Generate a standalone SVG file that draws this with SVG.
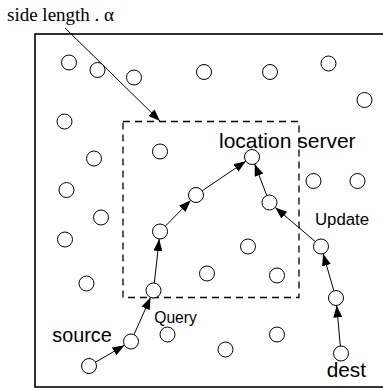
<svg xmlns="http://www.w3.org/2000/svg" width="383" height="391" viewBox="0 0 383 391">
  <style>
    .frame { fill: none; stroke: #000; stroke-width: 1.6; }
    .region { fill: none; stroke: #000; stroke-width: 1.3; stroke-dasharray: 7 5; }
    .node circle { fill: #fff; stroke: #000; stroke-width: 1; }
    .edge { stroke: #000; stroke-width: 1; fill: none; marker-end: url(#head); }
    .sans { font-family: "Liberation Sans", Arial, sans-serif; fill: #000; }
    .serif { font-family: "Liberation Serif", "Times New Roman", serif; fill: #000; }
  </style>
  <defs>
    <marker id="head" markerUnits="userSpaceOnUse" markerWidth="13" markerHeight="9" refX="12" refY="4.5" orient="auto">
      <path d="M0,0 L12,4.5 L0,9 Z" fill="#000"/>
    </marker>
  </defs>

  <!-- area and query region -->
  <rect class="frame" x="35" y="34" width="360" height="353"/>
  <rect class="region" x="123" y="121.5" width="176" height="176"/>

  <!-- labels -->
  <text class="serif" x="7" y="20.5" font-size="19">side length . α</text>
  <text class="sans" x="219" y="147.5" font-size="21">location server</text>
  <text class="sans" x="315" y="224.5" font-size="16.8">Update</text>
  <text class="sans" x="154.3" y="323" font-size="15.6">Query</text>
  <text class="sans" x="52.3" y="341.5" font-size="19.8">source</text>
  <text class="sans" x="326.7" y="377" font-size="20.8">dest</text>

  <!-- connectors -->
  <g id="connectors">
    <line class="edge" x1="65" y1="28" x2="160" y2="121"/>
    <line class="edge" x1="95.5" y1="362.2" x2="124.5" y2="345.3"/>
    <line class="edge" x1="134" y1="334.6" x2="150.5" y2="297.4"/>
    <line class="edge" x1="154.3" y1="283.1" x2="159.2" y2="239"/>
    <line class="edge" x1="165.3" y1="226.2" x2="190.7" y2="200.3"/>
    <line class="edge" x1="202.2" y1="190.8" x2="245.8" y2="161.2"/>
    <line class="edge" x1="340.3" y1="346" x2="336.7" y2="305.5"/>
    <line class="edge" x1="333.9" y1="290.8" x2="323.1" y2="253.7"/>
    <line class="edge" x1="315.3" y1="241.6" x2="275.2" y2="207.4"/>
    <line class="edge" x1="266.8" y1="195.5" x2="254.7" y2="164"/>
  </g>

  <!-- path nodes -->
  <g id="n-source" class="node"><circle cx="89" cy="366" r="7.5"/></g>
  <g id="n-s1" class="node"><circle cx="131" cy="341.5" r="7.5"/></g>
  <g id="n-s2" class="node"><circle cx="153.5" cy="290.5" r="7.5"/></g>
  <g id="n-s3" class="node"><circle cx="160" cy="231.5" r="7.5"/></g>
  <g id="n-s4" class="node"><circle cx="196" cy="195" r="7.5"/></g>
  <g id="n-server" class="node"><circle cx="252" cy="157" r="7.5"/></g>
  <g id="n-dest" class="node"><circle cx="341" cy="353.5" r="7.5"/></g>
  <g id="n-d1" class="node"><circle cx="336" cy="298" r="7.5"/></g>
  <g id="n-d2" class="node"><circle cx="321" cy="246.5" r="7.5"/></g>
  <g id="n-d3" class="node"><circle cx="269.5" cy="202.5" r="7.5"/></g>

  <!-- other nodes -->
  <g id="n-a1" class="node"><circle cx="69" cy="62.5" r="7.5"/></g>
  <g id="n-a2" class="node"><circle cx="97.5" cy="70" r="7.5"/></g>
  <g id="n-a3" class="node"><circle cx="134" cy="77.5" r="7.5"/></g>
  <g id="n-a4" class="node"><circle cx="204" cy="72" r="7.5"/></g>
  <g id="n-a5" class="node"><circle cx="270" cy="72" r="7.5"/></g>
  <g id="n-a6" class="node"><circle cx="328.5" cy="63.5" r="7.5"/></g>
  <g id="n-a7" class="node"><circle cx="364.5" cy="100" r="7.5"/></g>
  <g id="n-a8" class="node"><circle cx="64.5" cy="121.5" r="7.5"/></g>
  <g id="n-a9" class="node"><circle cx="94" cy="158.5" r="7.5"/></g>
  <g id="n-a10" class="node"><circle cx="160" cy="151.5" r="7.5"/></g>
  <g id="n-a11" class="node"><circle cx="66.5" cy="190" r="7.5"/></g>
  <g id="n-a12" class="node"><circle cx="101" cy="217.5" r="7.5"/></g>
  <g id="n-a13" class="node"><circle cx="65" cy="239.5" r="7.5"/></g>
  <g id="n-a14" class="node"><circle cx="313.5" cy="181" r="7.5"/></g>
  <g id="n-a15" class="node"><circle cx="357.5" cy="181" r="7.5"/></g>
  <g id="n-a16" class="node"><circle cx="248" cy="246.5" r="7.5"/></g>
  <g id="n-a17" class="node"><circle cx="86.5" cy="283.5" r="7.5"/></g>
  <g id="n-a18" class="node"><circle cx="207" cy="273.5" r="7.5"/></g>
  <g id="n-a19" class="node"><circle cx="277" cy="275.5" r="7.5"/></g>
  <g id="n-a20" class="node"><circle cx="167.5" cy="334.5" r="7.5"/></g>
  <g id="n-a21" class="node"><circle cx="277" cy="334.5" r="7.5"/></g>
  <g id="n-a22" class="node"><circle cx="225.5" cy="349.5" r="7.5"/></g>
</svg>
